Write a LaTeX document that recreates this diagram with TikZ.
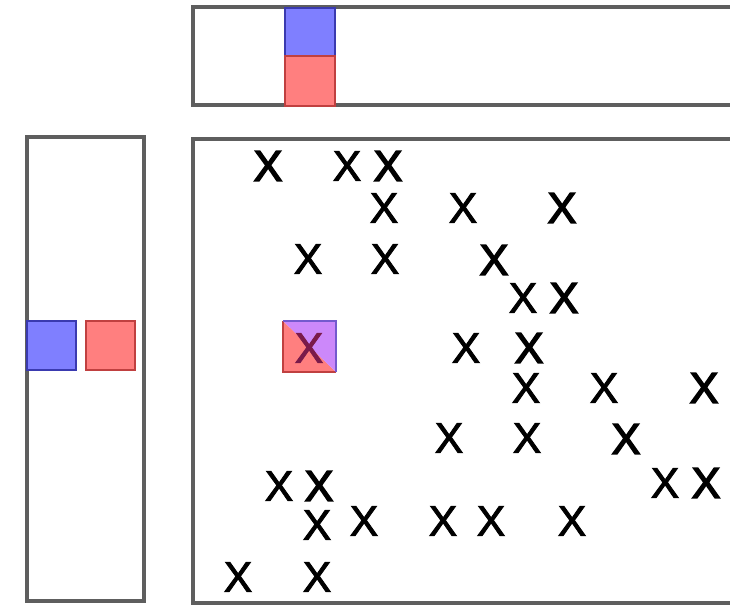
\documentclass[tikz,border=0pt]{standalone}
\usepackage{fontspec}
\setmainfont{Liberation Sans}
\newfontfamily\xreg[FakeBold=2]{Liberation Sans}
\newfontfamily\xheavy[FakeBold=3.4]{Liberation Sans}
\definecolor{framegray}{HTML}{5E5E5E}
\definecolor{cellblue}{HTML}{7F7FFF}
\definecolor{cellblueedge}{HTML}{3A3AB0}
\definecolor{cellred}{HTML}{FF7F7F}
\definecolor{cellrededge}{HTML}{C04040}
\definecolor{cellpurple}{HTML}{CC88FA}
\definecolor{xdark}{HTML}{7A1A4A}
\begin{document}
\begin{tikzpicture}[x=1pt,y=-1pt,
  frame/.style={draw=framegray,line width=3.2pt},
  xm/.style={inner sep=0pt,text=black,font=\fontsize{43}{43}\xreg},
  xb/.style={inner sep=0pt,text=black,font=\fontsize{43}{43}\xheavy},
  bluecell/.style={fill=cellblue,draw=cellblueedge,line width=1.4pt},
  redcell/.style={fill=cellred,draw=cellrededge,line width=1.4pt}]
\useasboundingbox (0,0) rectangle (730,606);
\clip (0,0) rectangle (730,606);
\fill[white] (0,0) rectangle (730,606);
% frames
\draw[frame] (745,7) -- (193,7) -- (193,105) -- (745,105);
\draw[frame] (27,137) rectangle (144,601);
\draw[frame] (745,139) -- (193,139) -- (193,603) -- (745,603);
% top bar cells
\draw[bluecell] (285,8) rectangle (335,56);
\draw[redcell] (285,56) rectangle (335,106);
% left bar cells
\draw[bluecell] (27,321) rectangle (76,370);
\draw[redcell] (86,321) rectangle (135,370);
% highlighted cell
\fill[cellred] (283,321) -- (283,372) -- (336,372) -- cycle;
\fill[cellpurple] (283,321) -- (336,321) -- (336,372) -- cycle;
\draw[cellrededge,line width=1.4pt] (283,321) -- (283,372) -- (336,372);
\draw[cellblueedge!60!cellpurple,line width=1.4pt] (283,321) -- (336,321) -- (336,372);
% marks
\node[xb] (a1) at (268,166) {X};
\node[xm] (a2) at (347,166) {X};
\node[xb] (a3) at (388,166) {X};
\node[xm] (b1) at (384,208) {X};
\node[xm] (b2) at (463,208) {X};
\node[xb] (b3) at (562,208) {X};
\node[xm] (c1) at (308,259) {X};
\node[xm] (c2) at (385,259) {X};
\node[xb] (c3) at (494,260) {X};
\node[xm] (d1) at (523,298) {X};
\node[xb] (d2) at (564,298) {X};
\node[xm,text=xdark] (e1) at (309,348) {X};
\node[xm] (e2) at (466,348) {X};
\node[xb] (e3) at (529,348) {X};
\node[xm] (f1) at (526,388) {X};
\node[xm] (f2) at (604,388) {X};
\node[xb] (f3) at (704,388) {X};
\node[xm] (g1) at (449,438) {X};
\node[xm] (g2) at (527,438) {X};
\node[xb] (g3) at (626,439) {X};
\node[xm] (h1) at (279,486) {X};
\node[xb] (h2) at (319,486) {X};
\node[xm] (h3) at (665,483) {X};
\node[xb] (h4) at (706,483) {X};
\node[xm] (i1) at (317,525) {X};
\node[xm] (i2) at (364,521) {X};
\node[xm] (i3) at (443,521) {X};
\node[xm] (i4) at (491,521) {X};
\node[xm] (i5) at (572,521) {X};
\node[xm] (j1) at (238,577) {X};
\node[xm] (j2) at (317,577) {X};
\end{tikzpicture}
\end{document}
